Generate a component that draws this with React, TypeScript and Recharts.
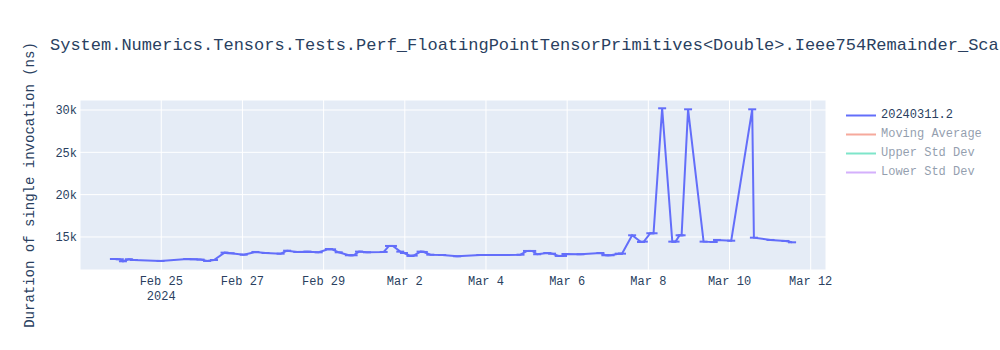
import { LineChart, Line, XAxis, YAxis, CartesianGrid } from 'recharts';

const MONO = '"Courier New", "Liberation Mono", monospace';
const TEXT = '#2a3f5f';

const MONTHS = ['Jan', 'Feb', 'Mar', 'Apr', 'May', 'Jun', 'Jul', 'Aug', 'Sep', 'Oct', 'Nov', 'Dec'];

// run timestamps (UTC) and measured duration in ns
const runDates = [
  '2024-02-23 20:00', '2024-02-23 23:30', '2024-02-24 01:20', '2024-02-24 04:50', '2024-02-24 07:50',
  '2024-02-24 23:35', '2024-02-25 15:20', '2024-02-25 19:10', '2024-02-25 23:15', '2024-02-26 03:05',
  '2024-02-26 07:10', '2024-02-26 13:25', '2024-02-26 17:00', '2024-02-27 00:45', '2024-02-27 07:40',
  '2024-02-27 13:40', '2024-02-27 22:35', '2024-02-28 02:25', '2024-02-28 08:25', '2024-02-28 14:25',
  '2024-02-28 21:05', '2024-02-29 03:05', '2024-02-29 05:00', '2024-02-29 08:55', '2024-02-29 14:55',
  '2024-02-29 17:45', '2024-02-29 20:55', '2024-03-01 01:40', '2024-03-01 11:30', '2024-03-01 14:40',
  '2024-03-01 17:00', '2024-03-01 21:20', '2024-03-01 23:30', '2024-03-02 03:20', '2024-03-02 05:15',
  '2024-03-02 09:20', '2024-03-02 11:15', '2024-03-02 15:05', '2024-03-02 22:05', '2024-03-03 07:00',
  '2024-03-03 20:40', '2024-03-04 10:35', '2024-03-04 20:25', '2024-03-05 00:15', '2024-03-05 03:20',
  '2024-03-05 06:15', '2024-03-05 12:15', '2024-03-05 15:05', '2024-03-05 19:00', '2024-03-05 21:35',
  '2024-03-05 23:00', '2024-03-06 07:55', '2024-03-06 19:40', '2024-03-06 22:35', '2024-03-07 01:40',
  '2024-03-07 06:30', '2024-03-07 08:25', '2024-03-07 14:25', '2024-03-07 19:40', '2024-03-07 21:20',
  '2024-03-08 01:10', '2024-03-08 03:05', '2024-03-08 08:10', '2024-03-08 14:10', '2024-03-08 16:05',
  '2024-03-08 18:30', '2024-03-08 19:40', '2024-03-08 23:30', '2024-03-09 08:40', '2024-03-09 14:40',
  '2024-03-09 16:35', '2024-03-10 01:00', '2024-03-10 13:25', '2024-03-10 14:25', '2024-03-11 00:15',
  '2024-03-11 09:05', '2024-03-11 13:00',
];

const durations = [
  12400, 12370, 12130, 12370, 12280,
  12170, 12400, 12370, 12330, 12170,
  12280, 13150, 13080, 12910, 13230,
  13110, 13030, 13380, 13230, 13270,
  13190, 13580, 13540, 13190, 12840,
  12840, 13270, 13190, 13230, 13940,
  13940, 13270, 13110, 12760, 12800,
  13270, 13230, 12910, 12870, 12720,
  12870, 12870, 12910, 13350, 13350,
  12960, 13110, 13030, 12760, 12760,
  12990, 12960, 13110, 12840, 12840,
  13030, 13030, 15200, 14410, 14450,
  15440, 15440, 30200, 14450, 14450,
  15200, 15200, 30080, 14450, 14410,
  14650, 14560, 30080, 14920, 14650,
  14530, 14370,
];

const xTickDates = ['2024-02-25', '2024-02-27', '2024-02-29', '2024-03-02', '2024-03-04', '2024-03-06', '2024-03-08', '2024-03-10', '2024-03-12'];
const yTicks = [15000, 20000, 25000, 30000];

const legendNames = ['20240311.2', 'Moving Average', 'Upper Std Dev', 'Lower Std Dev'];
const legendColors = ['#636efa', '#EF553B', '#00cc96', '#ab63fa'];
const legendHidden = [false, true, true, true];

const toMs = (s: string) => Date.parse(s.replace(' ', 'T') + (s.length > 10 ? ':00Z' : 'T00:00:00Z'));

const data = runDates.map((d, i) => ({ t: toMs(d), ns: durations[i] }));
const xTicks = xTickDates.map(toMs);

// plotly-style 5% padding around the data
const tMin = Math.min(...data.map((d) => d.t));
const tMax = Math.max(...data.map((d) => d.t));
const tPad = (tMax - tMin) * 0.05;

const XTick = (props: any) => {
  const { x, y, payload, index } = props;
  const d = new Date(payload.value);
  return (
    <g>
      <text x={x} y={y + 13} textAnchor="middle" fill={TEXT} fontSize={12} fontFamily={MONO}>
        {`${MONTHS[d.getUTCMonth()]} ${d.getUTCDate()}`}
      </text>
      {index === 0 && (
        <text x={x} y={y + 28} textAnchor="middle" fill={TEXT} fontSize={12} fontFamily={MONO}>
          {d.getUTCFullYear()}
        </text>
      )}
    </g>
  );
};

const CapDot = (props: any) => {
  const { cx, cy, index } = props;
  if (cx == null || cy == null) return null;
  return <line key={index} x1={cx - 4} x2={cx + 4} y1={cy} y2={cy} stroke="#636efa" strokeWidth={2} />;
};

export default function App() {
  return (
    <div style={{ position: 'absolute', left: 0, top: 0, width: 1000, height: 350, background: '#fff', overflow: 'hidden' }}>
      <div
        style={{
          position: 'absolute',
          left: 50,
          top: 36,
          fontFamily: MONO,
          fontSize: 17,
          lineHeight: '20px',
          color: TEXT,
          whiteSpace: 'nowrap',
        }}
      >
        System.Numerics.Tensors.Tests.Perf_FloatingPointTensorPrimitives&lt;Double&gt;.Ieee754Remainder_Sca
      </div>
      <div style={{ position: 'absolute', left: 838, top: 105.5, fontFamily: MONO, fontSize: 12 }}>
        {legendNames.map((name, i) => (
          <div key={name} style={{ height: 19, display: 'flex', alignItems: 'center', opacity: legendHidden[i] ? 0.5 : 1 }}>
            <svg width={43} height={19}>
              <line x1={8} x2={38} y1={9.5} y2={9.5} stroke={legendColors[i]} strokeWidth={2} />
            </svg>
            <span style={{ color: TEXT, whiteSpace: 'nowrap' }}>{name}</span>
          </div>
        ))}
      </div>
      <LineChart width={1000} height={350} data={data} margin={{ top: 100, right: 174, bottom: 0, left: 0 }}>
        <CartesianGrid fill="#e5ecf6" stroke="#ffffff" strokeWidth={1} />
        <XAxis
          dataKey="t"
          type="number"
          scale="time"
          domain={[tMin - tPad, tMax + tPad]}
          ticks={xTicks}
          interval={0}
          height={80}
          axisLine={false}
          tickLine={false}
          tickSize={0}
          tick={<XTick />}
          allowDataOverflow
        />
        <YAxis
          type="number"
          domain={[11100, 31180]}
          ticks={yTicks}
          interval={0}
          width={80}
          axisLine={false}
          tickLine={false}
          tickSize={0}
          tickMargin={3}
          tickFormatter={(v: number) => `${v / 1000}k`}
          tick={{ fill: TEXT, fontSize: 12, fontFamily: MONO }}
          allowDataOverflow
          label={{
            content: ({ viewBox }: any) => {
              const cy = viewBox.y + viewBox.height / 2;
              return (
                <text
                  x={30}
                  y={cy}
                  transform={`rotate(-90 30 ${cy})`}
                  textAnchor="middle"
                  dominantBaseline="central"
                  fill={TEXT}
                  fontSize={14}
                  fontFamily={MONO}
                >
                  Duration of single invocation (ns)
                </text>
              );
            },
          }}
        />
        <Line
          type="linear"
          dataKey="ns"
          name="20240311.2"
          stroke="#636efa"
          strokeWidth={2}
          dot={CapDot}
          activeDot={false}
          isAnimationActive={false}
        />
      </LineChart>
    </div>
  );
}
